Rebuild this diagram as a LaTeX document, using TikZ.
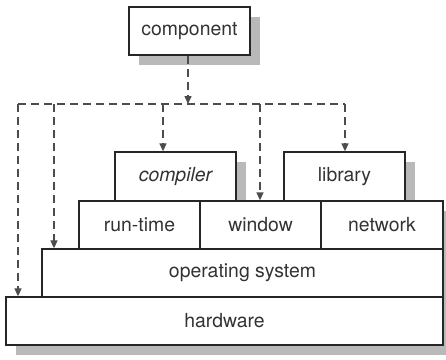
\documentclass[tikz,border=0pt]{standalone}
\usepackage{fontspec}
\setmainfont{TeX Gyre Heros}
\usetikzlibrary{arrows.meta,shadows}

\begin{document}
\begin{tikzpicture}[x=1pt,y=-1pt,
    box/.style={draw=black!85,line width=1.3pt,fill=white,text=black!80,
      font=\fontsize{19.4}{22}\selectfont,minimum height=48pt,inner sep=0pt,
      drop shadow={shadow xshift=10pt,shadow yshift=-10pt,fill=gray!55,opacity=1}},
    dashline/.style={draw=black!70,line width=1.4pt,dash pattern=on 8pt off 5pt},
    dep/.style={dashline,-{Triangle[width=7pt,length=8pt]}}]
    \useasboundingbox (0,0) rectangle (446,359);
\node[box,minimum width=121pt] (component) at (189.5,31) {component};
\node[box,minimum width=121pt,minimum height=49pt] (compiler) at (175.5,176.5) {\itshape compiler};
\node[box,minimum width=121pt,minimum height=49pt] (library) at (344.5,176.5) {library};
\node[box,minimum width=121pt] (runtime) at (139.5,225) {run-time};
\node[box,minimum width=121pt] (window) at (260.5,225) {window};
\node[box,minimum width=122pt] (network) at (382,225) {network};
\node[box,minimum width=401pt] (os) at (242.5,273) {operating system};
\node[box,minimum width=437pt] (hw) at (224.5,321) {hardware};
\coordinate (bus) at (188,104);
\coordinate (t1) at (18,104);
\coordinate (t2) at (54,104);
\coordinate (t3) at (163,104);
\coordinate (t4) at (260,104);
\coordinate (t5) at (345,104);
\draw[dep] (component.south -| bus) -- (bus);
\draw[dashline] (t1) -- (t5);
\draw[dep] (t1) -- (t1 |- hw.north);
\draw[dep] (t2) -- (t2 |- os.north);
\draw[dep] (t3) -- (t3 |- compiler.north);
\draw[dep] (t4) -- (t4 |- window.north);
\draw[dep] (t5) -- (t5 |- library.north);
\end{tikzpicture}
\end{document}
